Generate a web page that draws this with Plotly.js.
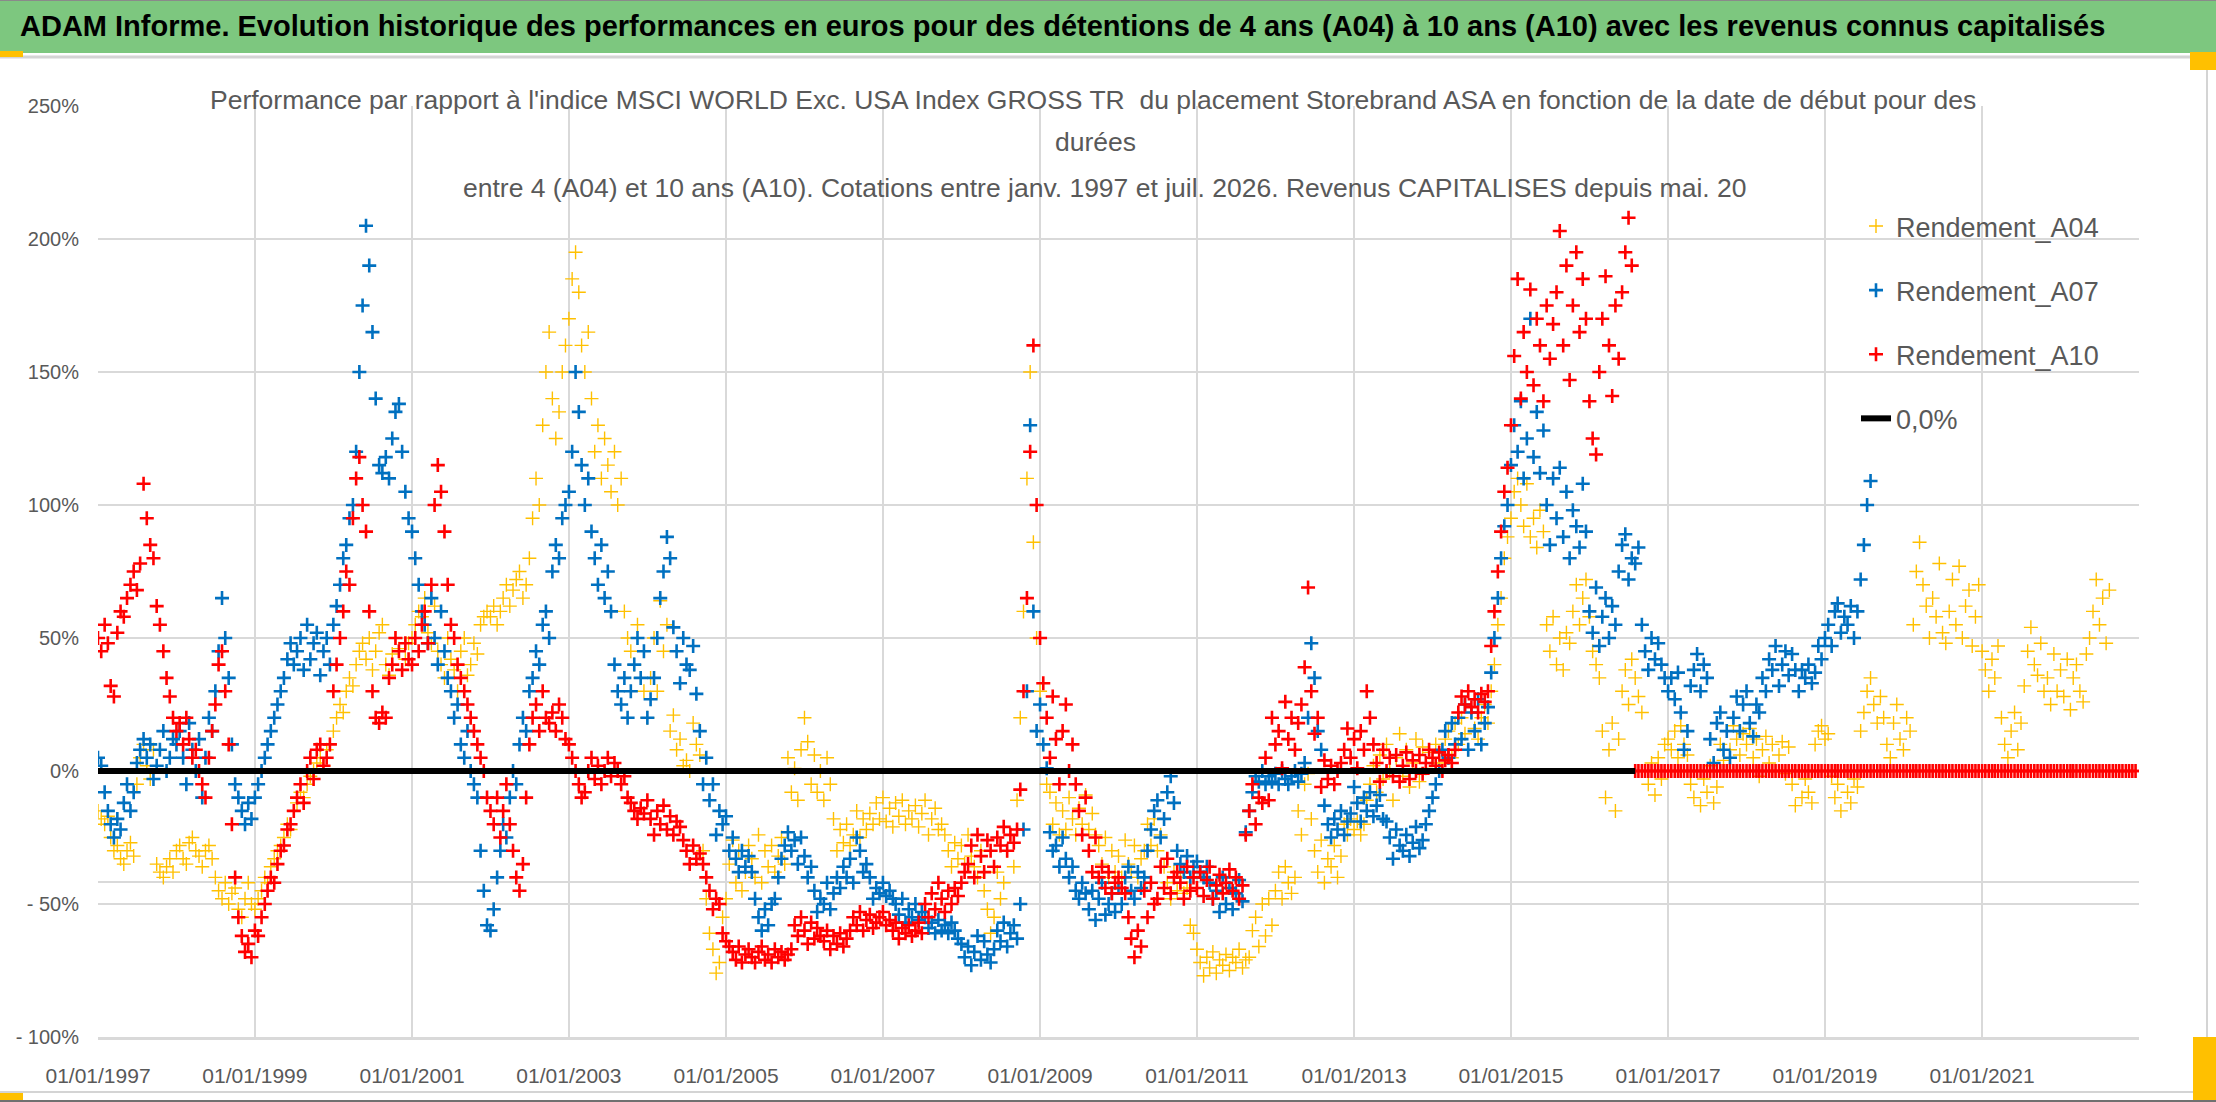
<!DOCTYPE html>
<html>
<head>
<meta charset="utf-8">
<script src="https://cdn.plot.ly/plotly-3.0.1.min.js"></script>
<style>
  html, body { margin: 0; padding: 0; background: #ffffff; }
  #chart { width: 2216px; height: 1102px; }
</style>
</head>
<body>
<div id="chart"></div>
<script>
// ---------------- DATA (values in %, one value every half month from 01/01/1997) ----------------
const seriesStartYear = 1997;

const rendementA04 = [
  // 1997
  -15,-18,-20,-17,-25,-30,-28,-33,-35,-30,-27,-32,-5,5,10,2,-3,8,-35,-38,-40,-36,-33,-38,
  // 1998
  -30,-28,-33,-35,-27,-25,-30,-32,-36,-30,-28,-33,-40,-45,-48,-42,-50,-46,-44,-52,-55,-48,-42,-50,
  // 1999
  -52,-48,-45,-40,-42,-36,-33,-30,-28,-25,-20,-22,-15,-12,-8,-10,-5,-2,0,3,5,2,8,10,
  // 2000
  15,20,25,22,30,35,32,40,45,48,42,50,38,45,52,55,40,36,44,50,46,38,42,48,
  // 2001
  50,55,60,58,65,52,48,62,45,40,35,50,42,38,30,45,50,36,40,48,44,55,58,60,
  // 2002
  58,62,55,60,65,70,62,68,72,75,65,70,80,95,110,100,130,150,165,140,125,135,150,160,
  // 2003
  170,185,195,180,160,150,165,140,120,130,110,125,115,105,120,100,110,60,50,45,40,55,35,30,
  // 2004
  20,35,50,30,64,45,55,15,21,8,12,2,4,0,18,10,6,-30,-48,-61,-67,-76,-72,-55,
  // 2005
  -48,-35,-26,-42,-30,-45,-38,-28,-33,-40,-24,-42,-30,-36,-28,-38,-32,-25,-35,5,-8,1,-11,8,
  // 2006
  20,11,-5,6,-8,0,-11,5,-5,-18,-30,-22,-27,-20,-28,-24,-15,-25,-18,-22,-16,-20,-12,-18,
  // 2007
  -10,-19,-14,-21,-12,-17,-11,-20,-15,-18,-13,-21,-16,-11,-24,-18,-14,-22,-20,-24,-30,-36,-27,-33,
  // 2008
  -28,-35,-24,-32,-36,-40,-30,-45,-52,-61,-55,-38,-48,-42,-30,-24,-36,-11,20,60,110,150,86,50,
  // 2009
  30,10,-5,-8,-20,-12,-24,-15,-22,-10,-18,-24,-14,-20,-9,-22,-16,-24,-28,-35,-25,-40,-30,-38,
  // 2010
  -32,-40,-26,-35,-38,-28,-40,-33,-30,-20,-28,-18,-30,-24,-36,-42,-48,-38,-45,-40,-46,-44,-58,-61,
  // 2011
  -67,-72,-77,-70,-74,-68,-76,-71,-73,-69,-75,-70,-72,-67,-74,-71,-70,-60,-55,-66,-50,-62,-48,-58,
  // 2012
  -45,-38,-48,-36,-42,-46,-40,-15,-24,-5,-1,-18,-30,-38,-26,-42,-33,-36,-28,-40,-32,-20,-24,-18,
  // 2013
  -22,-19,-24,-20,-11,-5,2,-8,6,-3,10,0,-11,5,14,-2,8,-6,3,12,-4,9,1,7,
  // 2014
  5,10,3,8,12,15,5,18,10,20,14,8,22,16,12,20,25,18,30,40,55,65,80,88,
  // 2015
  95,105,110,100,92,108,88,95,84,98,90,55,45,58,40,50,38,52,48,60,70,55,65,72,
  // 2016
  58,45,40,35,15,-10,8,18,-15,12,30,38,25,42,35,28,22,0,-5,3,-9,5,-3,10,
  // 2017
  12,8,15,5,17,10,6,-5,-10,0,-13,-3,-8,2,-12,-6,10,4,15,8,17,12,6,14,
  // 2018
  10,16,5,12,-2,8,13,3,10,0,6,11,-1,9,-5,-13,0,-10,-3,-8,-12,10,15,17,
  // 2019
  12,14,-2,-10,-5,-15,0,-8,-12,-3,-6,15,22,30,35,25,18,28,20,10,5,18,25,12,
  // 2020
  8,20,15,55,75,86,70,62,50,65,58,78,52,48,60,72,55,77,50,62,68,47,58,70,
  // 2021
  45,38,30,42,35,47,20,10,5,15,22,8,18,32,45,54,40,36,48,30,35,25,44,30,
  // 2022
  38,28,42,23,35,40,30,26,44,50,60,72,55,65,48,68
];

const rendementA07 = [
  // 1997
  5,2,-8,-15,-20,-25,-18,-22,-12,-5,-15,-8,3,8,12,5,10,-3,2,8,15,0,5,12,
  // 1998
  10,15,5,-5,18,8,0,12,-10,5,20,15,30,45,65,50,35,10,-5,-10,-15,-20,-12,-18,
  // 1999
  -10,-5,0,5,10,15,20,25,30,35,42,48,40,45,50,38,55,42,48,52,36,45,50,40,
  // 2000
  55,62,70,80,85,95,100,120,150,175,205,190,165,140,115,112,118,110,125,135,138,120,105,95,
  // 2001
  90,80,70,60,55,48,65,50,40,60,45,35,30,20,25,10,5,15,0,-5,-10,-30,-45,-58,
  // 2002
  -60,-52,-40,-30,-20,-25,-10,0,-5,10,20,15,30,35,45,40,55,60,50,75,85,80,95,100,
  // 2003
  105,120,150,135,115,100,110,90,80,70,85,65,75,60,40,30,25,35,20,30,40,50,35,45,
  // 2004
  20,27,35,50,65,75,88,80,54,45,33,50,40,38,47,29,15,-5,5,-11,-5,-24,-15,-20,
  // 2005
  -17,-30,-25,-33,-38,-30,-36,-32,-38,-48,-55,-60,-52,-58,-50,-48,-40,-33,-28,-23,-30,-26,-35,-25,
  // 2006
  -32,-40,-36,-45,-53,-48,-50,-42,-52,-46,-40,-44,-36,-40,-33,-42,-25,-30,-38,-35,-40,-48,-44,-46,
  // 2007
  -42,-47,-45,-48,-50,-54,-48,-57,-52,-55,-50,-56,-53,-55,-59,-57,-61,-56,-60,-58,-61,-57,-60,-63,
  // 2008
  -65,-70,-66,-73,-68,-62,-71,-64,-69,-72,-67,-60,-64,-57,-66,-61,-58,-63,-50,-22,30,130,60,15,
  // 2009
  25,10,1,-23,-30,-28,-36,-25,-33,-40,-36,-45,-48,-42,-46,-52,-45,-56,-48,-42,-54,-50,-46,-53,
  // 2010
  -44,-50,-40,-36,-45,-48,-38,-44,-40,-30,-22,-15,-11,-25,-18,-8,-2,-12,-30,-35,-38,-32,-40,-36,
  // 2011
  -34,-38,-40,-36,-42,-48,-45,-53,-40,-50,-44,-52,-46,-41,-49,-23,-15,-8,-2,-4,0,-5,-2,-4,
  // 2012
  -1,-5,0,-3,-5,-2,0,-4,-1,3,20,48,35,15,8,-13,-20,-25,-18,-22,-15,-24,-19,-16,
  // 2013
  -6,-12,-19,-10,-15,-8,-17,-13,-9,-18,-19,-25,-33,-22,-28,-30,-24,-32,-27,-21,-29,-26,-20,-15,
  // 2014
  -10,-5,0,8,15,5,18,10,20,12,25,8,22,15,27,10,18,24,37,50,65,80,92,100,
  // 2015
  115,130,120,139,110,125,170,118,135,112,128,100,85,110,95,114,88,105,80,98,92,84,108,90,
  // 2016
  60,52,69,47,58,65,50,62,55,75,85,89,72,80,78,84,55,45,38,50,42,48,40,35,
  // 2017
  30,35,27,37,22,8,15,32,38,44,30,40,35,12,3,18,22,8,15,5,20,28,15,25,
  // 2018
  30,18,13,25,22,35,30,42,38,47,32,40,45,36,44,38,30,38,35,40,33,37,47,42,
  // 2019
  50,55,47,60,63,52,58,55,62,50,60,72,85,100,109
];

const rendementA10 = [
  // 1997
  50,45,55,48,32,28,52,60,58,65,70,75,68,78,108,95,85,80,62,55,45,35,28,20,
  // 1998
  15,18,10,20,12,5,8,0,-5,-10,5,15,25,40,45,30,10,-20,-40,-55,-62,-68,-65,-70,
  // 1999
  -60,-62,-55,-50,-45,-40,-42,-35,-30,-28,-22,-20,-15,-10,-5,-12,0,5,-3,8,10,2,5,10,
  // 2000
  30,40,50,60,75,70,95,110,118,100,90,60,30,20,18,22,20,35,40,50,45,38,48,42,
  // 2001
  40,50,45,55,60,48,70,100,115,105,90,70,55,50,40,35,30,25,20,15,10,5,0,-10,
  // 2002
  -15,-20,-10,-25,-15,-5,-20,-30,-40,-45,-35,-10,10,20,25,15,30,20,18,22,15,25,20,12,
  // 2003
  10,5,0,-5,-10,-8,0,5,-3,2,-5,0,5,-2,3,0,-5,-2,-10,-12,-15,-18,-14,-16,
  // 2004
  -11,-18,-24,-15,-20,-13,-22,-17,-24,-19,-21,-26,-30,-35,-28,-33,-31,-35,-40,-45,-52,-48,-50,-61,
  // 2005
  -64,-66,-68,-71,-66,-72,-69,-67,-70,-72,-68,-66,-71,-69,-72,-67,-70,-68,-71,-69,-67,-58,-62,-55,
  // 2006
  -60,-65,-57,-63,-59,-62,-64,-60,-67,-62,-65,-61,-66,-63,-60,-55,-58,-53,-60,-56,-54,-59,-57,-55,
  // 2007
  -53,-58,-56,-60,-57,-63,-59,-61,-58,-62,-60,-57,-61,-50,-55,-46,-52,-42,-48,-53,-45,-50,-44,-47,
  // 2008
  -42,-38,-35,-28,-40,-24,-32,-38,-26,-30,-36,-25,-28,-21,-30,-24,-27,-22,-7,30,65,120,160,100,
  // 2009
  50,33,20,5,28,12,-5,15,25,0,10,-5,-15,-24,-10,-30,-38,-25,-40,-36,-44,-38,-46,-42,
  // 2010
  -40,-44,-46,-55,-63,-70,-60,-66,-45,-55,-42,-50,-48,-36,-44,-33,-46,-40,-38,-42,-48,-36,-45,-40,
  // 2011
  -44,-38,-47,-41,-36,-48,-43,-39,-46,-42,-37,-45,-40,-48,-43,-24,-15,-5,-20,-10,-12,5,-11,20,
  // 2012
  10,15,1,26,12,20,8,18,25,39,69,30,14,20,-6,4,-3,2,-5,0,3,8,16,5,
  // 2013
  12,1,15,8,30,20,10,3,-4,8,0,5,-2,6,-4,2,7,-3,4,0,6,-1,3,8,
  // 2014
  5,2,7,0,4,6,3,8,22,28,25,30,24,27,22,29,26,30,47,60,75,90,105,114,
  // 2015
  130,156,185,140,165,150,181,145,170,160,139,175,155,168,180,203,160,190,147,175,195,165,185,170,
  // 2016 (until July)
  139,125,119,150,170,186,160,141,175,155,180,195,208,190,
  // Aug 2016 -> Dec 2022 : not yet known, shown at 0
  0,0,0,0,0,0,0,0,0,0,
  0,0,0,0,0,0,0,0,0,0,0,0,0,0,0,0,0,0,0,0,0,0,0,0,
  0,0,0,0,0,0,0,0,0,0,0,0,0,0,0,0,0,0,0,0,0,0,0,0,
  0,0,0,0,0,0,0,0,0,0,0,0,0,0,0,0,0,0,0,0,0,0,0,0,
  0,0,0,0,0,0,0,0,0,0,0,0,0,0,0,0,0,0,0,0,0,0,0,0,
  0,0,0,0,0,0,0,0,0,0,0,0,0,0,0,0,0,0,0,0,0,0,0,0,
  0,0,0,0,0,0,0,0,0,0,0,0,0,0,0,0,0,0,0,0,0,0,0,0
];

const zeroLineDates = ['1997-01-01', '2016-08-01'];
const zeroLineValues = [0, 0];

const xTickDates = ['1997-01-01','1999-01-01','2001-01-01','2003-01-01','2005-01-01','2007-01-01',
  '2009-01-01','2011-01-01','2013-01-01','2015-01-01','2017-01-01','2019-01-01','2021-01-01'];
const xTickLabels = ['01/01/1997','01/01/1999','01/01/2001','01/01/2003','01/01/2005','01/01/2007',
  '01/01/2009','01/01/2011','01/01/2013','01/01/2015','01/01/2017','01/01/2019','01/01/2021'];
const yTickValues = [-100,-50,0,50,100,150,200,250];
const yTickLabels = ['- 100%','- 50%','0%','50%','100%','150%','200%','250%'];

const seriesNames = ['Rendement_A04','Rendement_A07','Rendement_A10','0,0%'];

const mainTitle = 'ADAM Informe. Evolution historique des performances en euros pour des détentions de 4 ans (A04) à 10 ans (A10) avec les revenus connus capitalisés';
const subTitleLines = [
  "Performance par rapport à l'indice MSCI WORLD Exc. USA Index GROSS TR  du placement Storebrand ASA en fonction de la date de début pour des",
  "durées",
  "entre 4 (A04) et 10 ans (A10). Cotations entre janv. 1997 et juil. 2026. Revenus CAPITALISES depuis mai. 20"
];

// ---------------- helpers ----------------
function halfMonthDates(startYear, count) {
  const out = [];
  for (let i = 0; i < count; i++) {
    const y = startYear + Math.floor(i / 24);
    const m = Math.floor((i % 24) / 2) + 1;
    const d = (i % 2) ? '16' : '01';
    out.push(y + '-' + String(m).padStart(2, '0') + '-' + d);
  }
  return out;
}

const FONT = "'Liberation Sans', Arial, sans-serif";
const GREY_TEXT = '#595959';
const GRID = '#d9d9d9';

// plot-area pixel box
const W = 2216, H = 1102, PL = 98, PR = 2139, PT = 106, PB = 1037;
const px = x => (x - PL) / (PR - PL);
const py = y => (PB - y) / (PB - PT);

function crossTrace(name, values, color, lw, group) {
  return {
    type: 'scatter', mode: 'markers', name: name,
    x: halfMonthDates(seriesStartYear, values.length), y: values,
    legendgroup: group,
    marker: { symbol: 'cross-thin', size: 10, color: color, line: { color: color, width: lw } },
    hoverinfo: 'skip'
  };
}

const traces = [
  crossTrace(seriesNames[0], rendementA04, '#FFC000', 1.4, 'g1'),
  crossTrace(seriesNames[1], rendementA07, '#0070C0', 2.6, 'g2'),
  crossTrace(seriesNames[2], rendementA10, '#FF0000', 2.6, 'g3'),
  {
    type: 'scatter', mode: 'lines', name: seriesNames[3],
    x: zeroLineDates, y: zeroLineValues, legendgroup: 'g4',
    line: { color: '#000000', width: 6 }, hoverinfo: 'skip'
  }
];

const shapes = [
  // green banner
  { type: 'rect', xref: 'paper', yref: 'paper', x0: px(0), x1: px(W), y0: py(53), y1: py(-2),
    fillcolor: '#7DC77F', line: { width: 0 }, layer: 'above' },
  { type: 'line', xref: 'paper', yref: 'paper', x0: px(0), x1: px(W), y0: py(0.5), y1: py(0.5),
    line: { color: '#8a8a8a', width: 1 }, layer: 'above' },
  // grey line under banner
  { type: 'line', xref: 'paper', yref: 'paper', x0: px(0), x1: px(W), y0: py(57), y1: py(57),
    line: { color: '#d4d4d4', width: 3 }, layer: 'above' },
  // extra light horizontal rule crossing the plot
  { type: 'line', xref: 'paper', yref: 'paper', x0: px(98), x1: px(2139), y0: py(882), y1: py(882),
    line: { color: '#cccccc', width: 1.5 }, layer: 'between' },
  // white box behind subtitle (covers grid)
  { type: 'rect', xref: 'paper', yref: 'paper', x0: px(205), x1: px(1980), y0: py(212), y1: py(80),
    fillcolor: '#ffffff', line: { width: 0 }, layer: 'between' },
  // white box behind legend (covers grid)
  { type: 'rect', xref: 'paper', yref: 'paper', x0: px(1808), x1: px(2141), y0: py(450), y1: py(192),
    fillcolor: '#ffffff', line: { width: 0 }, layer: 'between' },
  // chart frame lines
  { type: 'line', xref: 'paper', yref: 'paper', x0: px(2207), x1: px(2207), y0: py(1092), y1: py(58),
    line: { color: '#d4d4d4', width: 2 }, layer: 'above' },
  { type: 'line', xref: 'paper', yref: 'paper', x0: px(0), x1: px(2207), y0: py(1092), y1: py(1092),
    line: { color: '#d4d4d4', width: 2 }, layer: 'above' },
  { type: 'line', xref: 'paper', yref: 'paper', x0: px(0), x1: px(W), y0: py(1101), y1: py(1101),
    line: { color: '#707070', width: 2 }, layer: 'above' },
  // yellow selection handles
  { type: 'rect', xref: 'paper', yref: 'paper', x0: px(0), x1: px(23), y0: py(57), y1: py(51),
    fillcolor: '#FFC000', line: { width: 0 }, layer: 'above' },
  { type: 'rect', xref: 'paper', yref: 'paper', x0: px(2190), x1: px(W), y0: py(70), y1: py(52),
    fillcolor: '#FFC000', line: { width: 0 }, layer: 'above' },
  { type: 'rect', xref: 'paper', yref: 'paper', x0: px(0), x1: px(23), y0: py(1100), y1: py(1093),
    fillcolor: '#FFC000', line: { width: 0 }, layer: 'above' },
  { type: 'rect', xref: 'paper', yref: 'paper', x0: px(2193), x1: px(W), y0: py(1100), y1: py(1037),
    fillcolor: '#FFC000', line: { width: 0 }, layer: 'above' }
];

const subCenters = [[1093, 100], [1095, 142], [1105, 188]];
const annotations = [
  { xref: 'paper', yref: 'paper', x: px(1062), y: py(26), xanchor: 'center', yanchor: 'middle',
    text: '<b>' + mainTitle + '</b>', showarrow: false,
    font: { family: FONT, size: 29, color: '#000000' } }
].concat(subTitleLines.map((t, i) => ({
  xref: 'paper', yref: 'paper', x: px(subCenters[i][0]), y: py(subCenters[i][1]),
  xanchor: 'center', yanchor: 'middle', text: t, showarrow: false,
  font: { family: FONT, size: 26.5, color: GREY_TEXT }
})));

const layout = {
  width: W, height: H,
  margin: { l: PL, r: W - PR, t: PT, b: H - PB, pad: 0 },
  paper_bgcolor: '#ffffff', plot_bgcolor: '#ffffff',
  font: { family: FONT, color: GREY_TEXT },
  showlegend: true,
  legend: {
    x: px(1856), y: py(202), xanchor: 'left', yanchor: 'top',
    bgcolor: 'rgba(255,255,255,0)', borderwidth: 0,
    font: { family: FONT, size: 27, color: GREY_TEXT },
    traceorder: 'grouped', tracegroupgap: 26
  },
  xaxis: {
    type: 'date', range: ['1997-01-01', '2023-01-01'],
    tickvals: xTickDates, ticktext: xTickLabels, tickmode: 'array',
    showgrid: true, gridcolor: GRID, gridwidth: 1.5,
    zeroline: false, showline: true, linecolor: GRID, linewidth: 2.5,
    ticks: '', ticklabelstandoff: 18,
    tickfont: { family: FONT, size: 21, color: GREY_TEXT }
  },
  yaxis: {
    range: [-100, 250], tickmode: 'array',
    tickvals: yTickValues, ticktext: yTickLabels,
    showgrid: true, gridcolor: GRID, gridwidth: 1.5,
    zeroline: false, showline: false,
    ticks: '', ticklabelstandoff: 18,
    tickfont: { family: FONT, size: 20, color: GREY_TEXT }
  },
  shapes: shapes,
  annotations: annotations
};

Plotly.newPlot('chart', traces, layout, { staticPlot: true, displayModeBar: false });
</script>
</body>
</html>
